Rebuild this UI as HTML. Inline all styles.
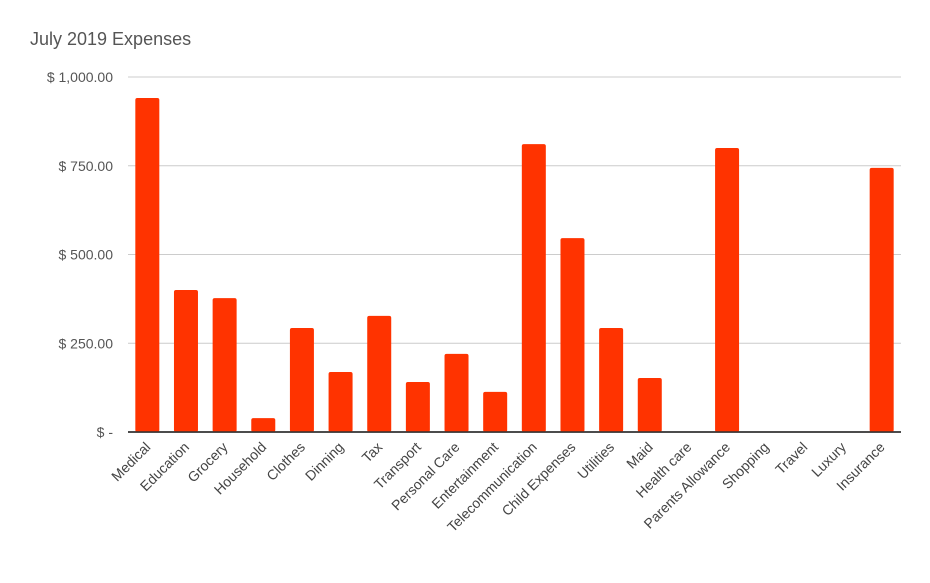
<!DOCTYPE html>
<html><head><meta charset="utf-8"><style>
body{margin:0;background:#fff;font-family:"Liberation Sans",Arial,sans-serif;}
svg text{font-family:"Liberation Sans",Arial,sans-serif;}
</style></head><body>
<svg id="chart" width="930" height="578">
<rect width="930" height="578" fill="#fff"/>
<text x="30" y="45" font-size="18" fill="#555">July 2019 Expenses</text>
<g id="grid"></g><g id="bars"></g><g id="xl"></g>
</svg>
<script>
const categories=["Medical","Education","Grocery","Household","Clothes","Dinning","Tax","Transport","Personal Care","Entertainment","Telecommunication","Child Expenses","Utilities","Maid","Health care","Parents Allowance","Shopping","Travel","Luxury","Insurance"];
const values=[941,400,377,39,293,169,327,141,220,113,811,546,293,152,0,800,0,0,0,744];
const ticks=[0,250,500,750,1000];
const tickLabels=["$ -","$ 250.00","$ 500.00","$ 750.00","$ 1,000.00"];
const NS="http://www.w3.org/2000/svg";
const left=128,right=901,y0=432,y1=77,vmax=1000;
const band=(right-left)/categories.length;
function ys(v){return y0-(v/vmax)*(y0-y1);}
function xs(i){return left+band*(i+0.5);}
function mk(t,a,p){const e=document.createElementNS(NS,t);for(const k in a)e.setAttribute(k,a[k]);p.appendChild(e);return e;}
const grid=document.getElementById('grid'),bars=document.getElementById('bars'),xl=document.getElementById('xl');
ticks.forEach((t,i)=>{
 const l=mk('line',{x1:left,x2:right,y1:ys(t),y2:ys(t),stroke:i==0?'#333':'#ccc','stroke-width':i==0?1.5:1},grid);
 
 
 const tx=mk('text',{x:113,y:ys(t)+5,'text-anchor':'end','font-size':14,fill:'#555'},grid);
 tx.textContent=tickLabels[i];
 
 
});
grid.appendChild(grid.firstChild);
categories.forEach((c,i)=>{
 const v=values[i];
 if(v>0){
  const r=mk('rect',{x:xs(i)-12,y:ys(v),width:24,height:y0-ys(v),fill:'#ff3300',rx:2},bars);
  
  
 }
 const t=mk('text',{x:xs(i)+4,y:448,'text-anchor':'end','font-size':14,fill:'#444',transform:`rotate(-45 ${xs(i)+4} 448)`},xl);
 t.textContent=c;
 
 
});
// baseline on top
const base=mk('line',{x1:left,x2:right,y1:y0,y2:y0,stroke:'#333','stroke-width':1.5},document.getElementById('chart'));


</script>
</body></html>
